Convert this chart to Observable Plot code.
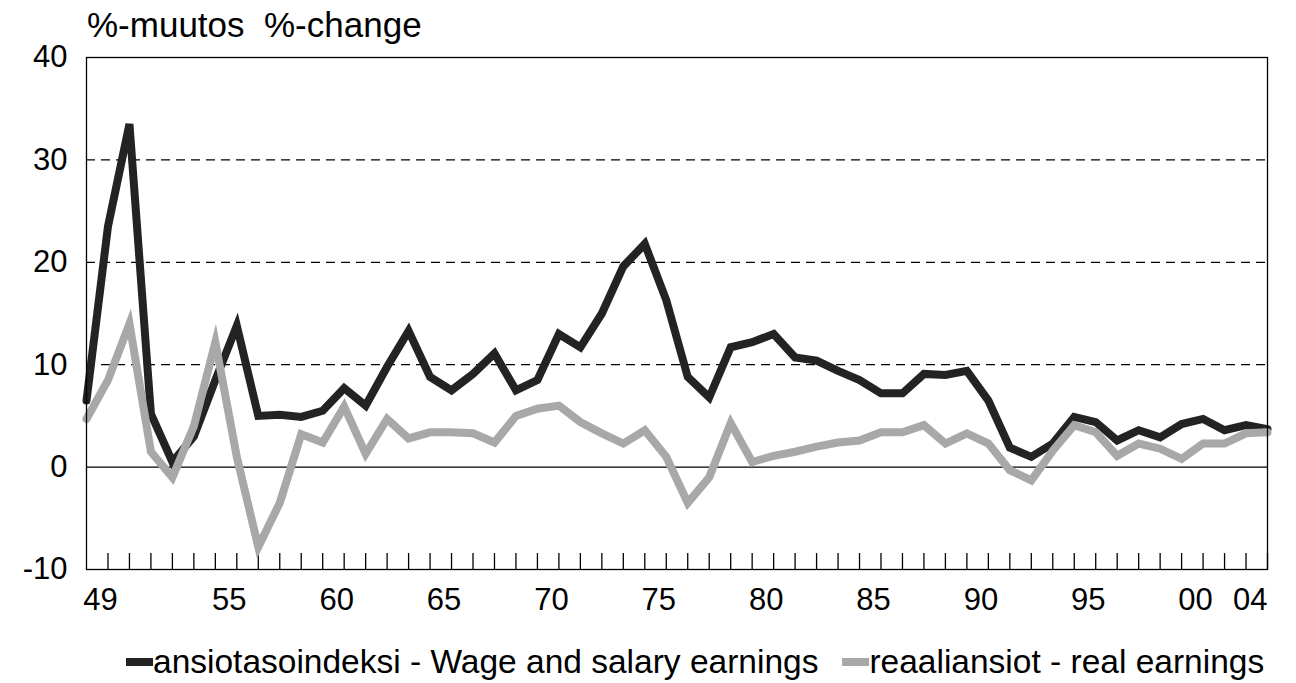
<!DOCTYPE html>
<html>
<head>
<meta charset="utf-8">
<script src="https://cdn.jsdelivr.net/npm/d3@7"></script>
<script src="https://cdn.jsdelivr.net/npm/@observablehq/plot@0.6"></script>
<style>
  html, body { margin: 0; padding: 0; background: #fff; }
  body { width: 1296px; height: 683px; overflow: hidden; font-family: "Liberation Sans", Arial, sans-serif; color: #000; }
  #title { height: 40px; line-height: 50px; padding-left: 87px; font-size: 35px; white-space: pre; overflow: visible; }
  #chart { height: 600px; }
  #legend { display: flex; justify-content: flex-start; align-items: center; height: 43px; font-size: 33.5px; white-space: pre; padding-left: 126px; }
  .sw { display: inline-block; width: 27px; height: 8px; }
</style>
</head>
<body>
<div id="title"></div>
<div id="chart"></div>
<div id="legend"></div>
<script>
const titleText = "%-muutos  %-change";
const years = d3.range(1949, 2005);
const wage = [6.5, 23.5, 33.5, 5.2, 0.5, 3.0, 8.5, 13.8, 5.0, 5.1,
  4.9, 5.5, 7.7, 6.0, 9.8, 13.3, 8.8, 7.5, 9.1, 11.1,
  7.5, 8.5, 13.0, 11.7, 15.0, 19.6, 21.8, 16.3, 8.8, 6.8,
  11.7, 12.2, 13.0, 10.7, 10.4, 9.4, 8.5, 7.2, 7.2, 9.1,
  9.0, 9.4, 6.5, 1.9, 1.0, 2.3, 4.9, 4.4, 2.6, 3.6,
  2.9, 4.2, 4.7, 3.6, 4.1, 3.7];
const real = [4.7, 8.5, 14.0, 1.5, -1.0, 4.0, 12.2, 1.0, -7.8, -3.5,
  3.2, 2.4, 5.9, 1.3, 4.7, 2.8, 3.4, 3.4, 3.3, 2.4,
  5.0, 5.7, 6.0, 4.4, 3.3, 2.3, 3.6, 1.0, -3.5, -1.0,
  4.3, 0.5, 1.1, 1.5, 2.0, 2.4, 2.6, 3.4, 3.4, 4.1,
  2.3, 3.3, 2.3, -0.3, -1.3, 1.6, 4.1, 3.4, 1.1, 2.3,
  1.8, 0.8, 2.3, 2.3, 3.3, 3.4];
const seriesNames = ["ansiotasoindeksi - Wage and salary earnings", "reaaliansiot - real earnings"];
const seriesColors = ["#232323", "#a8a8a8"];
const yTicks = [-10, 0, 10, 20, 30, 40];
const gridValues = [10, 20, 30];
const xLabelYears = [1949, 1955, 1960, 1965, 1970, 1975, 1980, 1985, 1990, 1995, 2000];
const lastLabelYear = 2004;
const fmtYear = y => String(y % 100).padStart(2, "0");

document.getElementById("title").textContent = titleText;

const wageData = years.map((y, i) => ({year: y, value: wage[i]}));
const realData = years.map((y, i) => ({year: y, value: real[i]}));
const innerTicks = years.slice(1);

const chart = Plot.plot({
  width: 1296,
  height: 600,
  marginLeft: 86,
  marginRight: 29,
  marginTop: 17,
  marginBottom: 71,
  style: {fontFamily: "'Liberation Sans', Arial, sans-serif", fontSize: "31px", color: "#000", background: "#fff", overflow: "visible"},
  x: {domain: [1949, 2004], axis: null},
  y: {domain: [-10, 40], label: null, axis: null},
  marks: [
    Plot.ruleY(gridValues, {stroke: "#000", strokeWidth: 1.3, strokeDasharray: "9,6"}),
    Plot.ruleY([0], {stroke: "#000", strokeWidth: 1.3}),
    Plot.tickX(innerTicks, {x: d => d, stroke: "#000", strokeWidth: 1.3, insetTop: 496}),
    Plot.line(wageData, {x: "year", y: "value", stroke: seriesColors[0], strokeWidth: 8, strokeLinejoin: "miter", strokeMiterlimit: 6}),
    Plot.line(realData, {x: "year", y: "value", stroke: seriesColors[1], strokeWidth: 8, strokeLinejoin: "miter", strokeMiterlimit: 6}),
    Plot.frame({stroke: "#000", strokeWidth: 1.3}),
    Plot.axisY(yTicks, {tickSize: 0, tickPadding: 19, tickFormat: d => String(d), fontSize: 31, fill: "#000", label: null}),
    Plot.text(xLabelYears, {x: d => d, text: fmtYear, frameAnchor: "bottom", dy: 40, dx: 14, fontSize: 31, fill: "#000"}),
    Plot.text([lastLabelYear], {x: d => d, text: fmtYear, frameAnchor: "bottom", dy: 40, textAnchor: "end", fontSize: 31, fill: "#000"})
  ]
});
document.getElementById("chart").appendChild(chart);

const legend = document.getElementById("legend");
seriesNames.forEach((name, i) => {
  const item = document.createElement("span");
  item.style.display = "inline-flex";
  item.style.alignItems = "center";
  item.style.marginRight = i === 0 ? "24px" : "0";
  const sw = document.createElement("span");
  sw.className = "sw";
  sw.style.background = seriesColors[i];
  item.appendChild(sw);
  const t = document.createElement("span");
  t.textContent = name;
  item.appendChild(t);
  legend.appendChild(item);
});
</script>
</body>
</html>
